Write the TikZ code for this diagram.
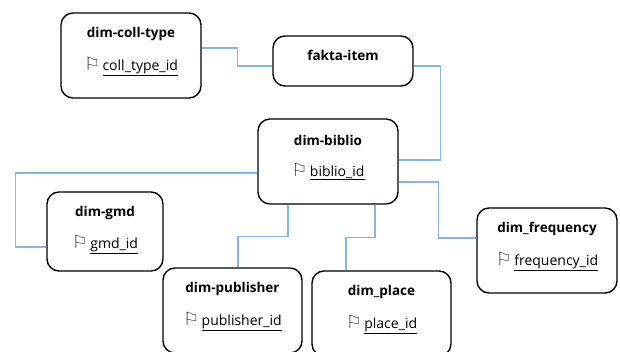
\documentclass[tikz,border=0pt]{standalone}
\usepackage{fontspec}
\setmainfont{Open Sans}
\newfontfamily\flagfont{DejaVu Sans}
\definecolor{linkblue}{HTML}{85B6E8}
\newcommand{\keyid}[1]{{\flagfont\fontsize{18}{15}\selectfont\color{black!75}\char"2690}\,\underline{#1}}
\tikzset{
    tablebox/.style={rectangle, draw, rounded corners=12pt, line width=1.4pt},
    tablename/.style={font=\fontsize{13.5}{15}\selectfont\bfseries, inner sep=0pt},
    keyname/.style={font=\fontsize{14}{15}\selectfont, inner sep=0pt},
    link/.style={draw=linkblue, line width=1.2pt}
}
\begin{document}
\begin{tikzpicture}[x=1pt, y=-1pt]
	\useasboundingbox (0,0) rectangle (620,352);
	\node (colltype) [tablebox, minimum width=140pt, minimum height=85pt] at (131,55.5) {};
	\node (fakta) [tablebox, minimum width=140pt, minimum height=50pt] at (343,61) {};
	\node (biblio) [tablebox, minimum width=140pt, minimum height=85pt] at (328,161.5) {};
	\node (gmd) [tablebox, minimum width=116pt, minimum height=79pt] at (105,231.5) {};
	\node (publisher) [tablebox, minimum width=139pt, minimum height=85pt] at (232.5,310.5) {};
	\node (place) [tablebox, minimum width=139pt, minimum height=85pt] at (381.5,313.5) {};
	\node (frequency) [tablebox, minimum width=140pt, minimum height=85pt] at (547,250.5) {};

	\node (colltypename) [tablename] at (131,34) {dim-coll-type};
	\node (colltypekey) [keyname] at (131,66.5) {\keyid{coll\_type\_id}};
	\node (faktaname) [tablename] at (343,55) {fakta-item};
	\node (biblioname) [tablename] at (328,140) {dim-biblio};
	\node (bibliokey) [keyname] at (328,171.5) {\keyid{biblio\_id}};
	\node (gmdname) [tablename] at (105,213) {dim-gmd};
	\node (gmdkey) [keyname] at (105,244.5) {\keyid{gmd\_id}};
	\node (publishername) [tablename] at (232.5,289) {dim-publisher};
	\node (publisherkey) [keyname] at (232.5,321.5) {\keyid{publisher\_id}};
	\node (placename) [tablename] at (381.5,292) {dim\_place};
	\node (placekey) [keyname] at (381.5,324.5) {\keyid{place\_id}};
	\node (frequencyname) [tablename] at (547,229) {dim\_frequency};
	\node (frequencykey) [keyname] at (547,261.5) {\keyid{frequency\_id}};

	\draw [link] ([yshift=7.5pt]colltype.east) -- ++(36,0) |- ([yshift=-5pt]fakta.west);
	\draw [link] ([yshift=-5pt]fakta.east) -- ++(27,0) |- ([yshift=1.5pt]biblio.east);
	\draw [link] ([yshift=-11.5pt]biblio.west) -- ++(-242,0) |- ([yshift=-15.5pt]gmd.west);
	\draw [link] ([xshift=-40pt]biblio.south) -- ++(0,32) -| ([xshift=5.5pt]publisher.north);
	\draw [link] ([xshift=47pt]biblio.south) -- ++(0,33) -| ([xshift=-35.5pt]place.north);
	\draw [link] ([yshift=-20.5pt]biblio.east) -- ++(40,0) |- ([yshift=12.5pt]frequency.west);
\end{tikzpicture}
\end{document}
